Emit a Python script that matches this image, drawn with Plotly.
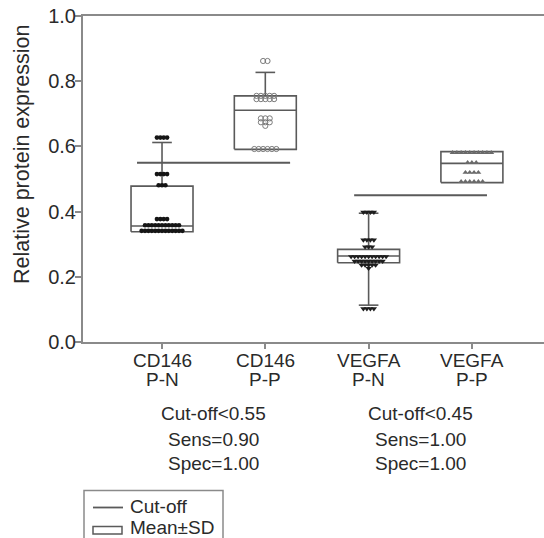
import plotly.graph_objects as go

# ---------------- data ----------------
categories_top = ["CD146", "CD146", "VEGFA", "VEGFA"]
categories_bottom = ["P-N", "P-P", "P-N", "P-P"]

cd146_pn = [0.627, 0.627, 0.627, 0.627,
            0.515, 0.515, 0.515, 0.515,
            0.481, 0.481, 0.481,
            0.377, 0.377, 0.377, 0.377,
            0.358, 0.358, 0.358, 0.358, 0.358, 0.358, 0.358, 0.358, 0.358, 0.358, 0.358,
            0.341, 0.341, 0.341, 0.341, 0.341, 0.341, 0.341, 0.341, 0.341, 0.341, 0.341, 0.341, 0.341]
cd146_pp = [0.862, 0.862,
            0.755, 0.755, 0.755, 0.755, 0.755,
            0.745, 0.745, 0.745, 0.745, 0.745,
            0.686, 0.686, 0.686,
            0.674, 0.674, 0.674,
            0.663,
            0.592, 0.592, 0.592, 0.592, 0.592, 0.592]
vegfa_pn = [0.398, 0.398, 0.398, 0.398,
            0.313, 0.313, 0.313, 0.313,
            0.292, 0.292, 0.292,
            0.262, 0.262, 0.262, 0.262, 0.262, 0.262, 0.262, 0.262, 0.262, 0.262, 0.262,
            0.248, 0.248, 0.248, 0.248, 0.248, 0.248, 0.248, 0.248, 0.248,
            0.236, 0.236, 0.236, 0.236, 0.236,
            0.226,
            0.102, 0.102, 0.102, 0.102]
vegfa_pp = [0.581, 0.581, 0.581, 0.581, 0.581, 0.581, 0.581, 0.581, 0.581, 0.581,
            0.550, 0.550, 0.550,
            0.520, 0.520, 0.520, 0.520,
            0.492, 0.492, 0.492, 0.492, 0.492, 0.492]

# box summary (Mean±SD box) and whiskers
box_low = [0.338, 0.591, 0.243, 0.489]
box_mid = [0.356, 0.711, 0.264, 0.548]
box_high = [0.478, 0.755, 0.284, 0.584]
whisker_low = [None, None, 0.113, None]
whisker_high = [0.612, 0.827, 0.395, None]

cutoff_values = [0.55, 0.45]
cutoff_labels = ["Cut-off<0.55", "Cut-off<0.45"]
sens_labels = ["Sens=0.90", "Sens=1.00"]
spec_labels = ["Spec=1.00", "Spec=1.00"]
y_ticks = [0.0, 0.2, 0.4, 0.6, 0.8, 1.0]

# ---------------- layout helpers ----------------
W, H = 544, 538
L, R, T, B = 83, 0, 16, 196
X_RANGE = [-0.765, 3.698]
PX_PER_UNIT = (W - L - R) / (X_RANGE[1] - X_RANGE[0])


def paper_x(px):
    return (px - L) / (W - L - R)


def paper_y(py):
    return (H - B - py) / (H - T - B)


FONT = "Liberation Sans, Arial, sans-serif"
TXT = "#2a2a2a"
LINE = "#5a5a5a"
AXIS = "#8a8a8a"

fig = go.Figure()

# boxes + whiskers + caps
half = 0.30
cap = 0.095
bx, by = [], []
for i in range(4):
    lo, md, hi = box_low[i], box_mid[i], box_high[i]
    bx += [i - half, i + half, i + half, i - half, i - half, None]
    by += [lo, lo, hi, hi, lo, None]
    bx += [i - half, i + half, None]
    by += [md, md, None]
    if whisker_high[i] is not None:
        bx += [i, i, None, i - cap, i + cap, None]
        by += [hi, whisker_high[i], None, whisker_high[i], whisker_high[i], None]
    if whisker_low[i] is not None:
        bx += [i, i, None, i - cap, i + cap, None]
        by += [lo, whisker_low[i], None, whisker_low[i], whisker_low[i], None]
fig.add_trace(go.Scatter(x=bx, y=by, mode="lines", line=dict(color=LINE, width=1.6),
                         hoverinfo="skip", showlegend=False))

# cut-off lines
cut_spans = [(0 - 0.242, 1 + 0.24), (2 - 0.14, 3 + 0.146)]
cx, cy = [], []
for (a, b), v in zip(cut_spans, cutoff_values):
    cx += [a, b, None]
    cy += [v, v, None]
fig.add_trace(go.Scatter(x=cx, y=cy, mode="lines", line=dict(color=LINE, width=2),
                         hoverinfo="skip", showlegend=False))


# swarm points: rows of equal values spread horizontally
def swarm(values, pos, spacing_px):
    xs, ys = [], []
    rows = {}
    for v in values:
        rows.setdefault(v, 0)
        rows[v] += 1
    for v, n in rows.items():
        for k in range(n):
            off = (k - (n - 1) / 2) * spacing_px / PX_PER_UNIT
            xs.append(pos + off)
            ys.append(v)
    return xs, ys


groups = [
    (cd146_pn, 0, 3.4, dict(symbol="circle", size=4.6, color="#151515")),
    (cd146_pp, 1, 4.4, dict(symbol="circle-open", size=5.2, color="#7a7a7a", line=dict(width=1))),
    (vegfa_pn, 2, 3.5, dict(symbol="triangle-down", size=5.5, color="#1e1e1e")),
    (vegfa_pp, 3, 4.3, dict(symbol="triangle-up", size=5.2, color="#6a6a6a")),
]
for vals, pos, sp, mk in groups:
    xs, ys = swarm(vals, pos, sp)
    fig.add_trace(go.Scatter(x=xs, y=ys, mode="markers", marker=mk,
                             hoverinfo="skip", showlegend=False))

annotations = []
# category labels (two tight lines)
for i in range(4):
    annotations.append(dict(x=i, y=paper_y(361), xref="x", yref="paper", text=categories_top[i],
                            showarrow=False, font=dict(size=19, color=TXT, family=FONT),
                            xanchor="center", yanchor="middle"))
    annotations.append(dict(x=i, y=paper_y(379), xref="x", yref="paper", text=categories_bottom[i],
                            showarrow=False, font=dict(size=19, color=TXT, family=FONT),
                            xanchor="center", yanchor="middle"))
# diagnostic stats
for j, xc in enumerate([0.5, 2.5]):
    for txt, py in [(cutoff_labels[j], 413), (sens_labels[j], 439), (spec_labels[j], 463)]:
        annotations.append(dict(x=xc, y=paper_y(py), xref="x", yref="paper", text=txt,
                                showarrow=False, font=dict(size=19, color=TXT, family=FONT),
                                xanchor="center", yanchor="middle"))
# y title
annotations.append(dict(x=paper_x(22), y=paper_y(155), xref="paper", yref="paper",
                        text="Relative protein expression", textangle=-90, showarrow=False,
                        font=dict(size=21.5, color=TXT, family=FONT),
                        xanchor="center", yanchor="middle"))
# legend texts
annotations.append(dict(x=paper_x(128), y=paper_y(506.5), xref="paper", yref="paper", text="Cut-off",
                        showarrow=False, font=dict(size=19, color=TXT, family=FONT),
                        xanchor="left", yanchor="middle"))
annotations.append(dict(x=paper_x(128), y=paper_y(527.5), xref="paper", yref="paper", text="Mean±SD",
                        showarrow=False, font=dict(size=19, color=TXT, family=FONT),
                        xanchor="left", yanchor="middle"))

shapes = [
    # legend frame
    dict(type="rect", xref="paper", yref="paper", x0=paper_x(84), x1=paper_x(223),
         y0=paper_y(490.5), y1=paper_y(560), line=dict(color=AXIS, width=1.5)),
    # legend line sample
    dict(type="line", xref="paper", yref="paper", x0=paper_x(93), x1=paper_x(123),
         y0=paper_y(507.5), y1=paper_y(507.5), line=dict(color=LINE, width=1.8)),
    # legend box sample
    dict(type="rect", xref="paper", yref="paper", x0=paper_x(93), x1=paper_x(122),
         y0=paper_y(526.5), y1=paper_y(534), line=dict(color=LINE, width=1.5)),
]

fig.update_layout(
    width=W, height=H,
    margin=dict(l=L, r=R, t=T, b=B),
    paper_bgcolor="white", plot_bgcolor="white",
    showlegend=False,
    annotations=annotations,
    shapes=shapes,
    xaxis=dict(range=X_RANGE, showgrid=False, zeroline=False,
               showline=True, linecolor=AXIS, linewidth=2, mirror=True,
               ticks="outside", ticklen=5, tickwidth=1.5, tickcolor=AXIS,
               tickvals=[0, 1, 2, 3], showticklabels=False),
    yaxis=dict(range=[0, 1], showgrid=False, zeroline=False,
               showline=True, linecolor=AXIS, linewidth=2,
               ticks="outside", ticklen=6, tickwidth=1.5, tickcolor=AXIS,
               tickvals=y_ticks, tickformat=".1f", ticklabelstandoff=-5,
               tickfont=dict(size=20, color=TXT, family=FONT)),
)

fig.write_html("out.html", config={"displayModeBar": False},
               post_script="document.body.style.margin='0';document.body.style.overflow='hidden';")
